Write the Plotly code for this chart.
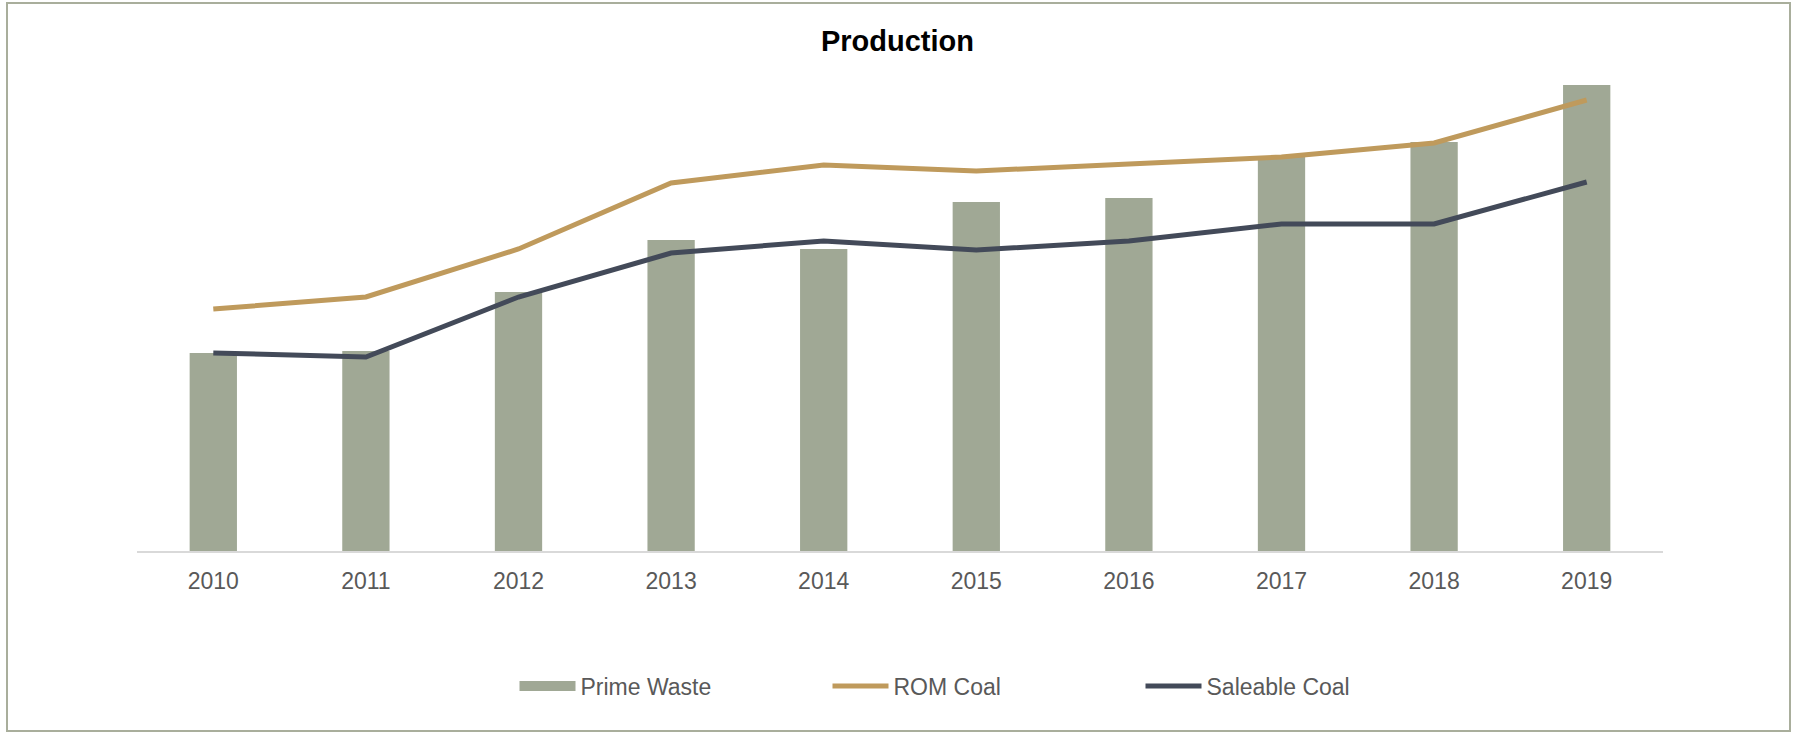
import plotly.graph_objects as go

# values (no axis shown, arbitrary units)
years = ["2010", "2011", "2012", "2013", "2014", "2015", "2016", "2017", "2018", "2019"]
prime_waste = [19.8, 20.0, 25.9, 31.1, 30.2, 34.9, 35.3, 39.4, 40.9, 46.6]
rom_coal = [24.2, 25.4, 30.2, 36.8, 38.6, 38.0, 38.7, 39.4, 40.8, 45.1]
saleable_coal = [19.8, 19.4, 25.4, 29.8, 31.0, 30.1, 31.0, 32.7, 32.7, 36.9]

W, H = 1795, 733
ML, MR, MT, MB = 137, 132, 60, 182
FONT = "Arial, Liberation Sans, sans-serif"
BAR_C = "#A0A895"
ROM_C = "#BF9A5C"
SAL_C = "#434A59"


def px_x(v):
    return (v - ML) / (W - ML - MR)


def px_y(v):
    return (H - MB - v) / (H - MT - MB)


fig = go.Figure()
fig.add_trace(go.Bar(x=years, y=prime_waste, name="Prime Waste",
                     marker=dict(color=BAR_C, line=dict(width=0)),
                     showlegend=False))
# legend proxy so the swatch is a wide block like the original
fig.add_trace(go.Scatter(x=[None], y=[None], mode="lines", name="Prime Waste",
                         line=dict(color=BAR_C, width=10)))
fig.add_trace(go.Scatter(x=years, y=rom_coal, name="ROM Coal", mode="lines",
                         line=dict(color=ROM_C, width=5)))
fig.add_trace(go.Scatter(x=years, y=saleable_coal, name="Saleable Coal", mode="lines",
                         line=dict(color=SAL_C, width=5)))

fig.update_layout(
    width=W, height=H,
    margin=dict(l=ML, r=MR, t=MT, b=MB),
    paper_bgcolor="white", plot_bgcolor="white",
    font=dict(family=FONT, color="#595959", size=23),
    title=dict(text="<b>Production</b>", x=0.5, xanchor="center",
               y=1 - 41 / H, yanchor="middle", yref="container",
               font=dict(family=FONT, size=29, color="black")),
    bargap=0.69,
    showlegend=True,
    legend=dict(orientation="h", x=px_x(514.5), xanchor="left",
                y=px_y(686), yanchor="middle",
                itemwidth=56, entrywidth=242, entrywidthmode="pixels",
                font=dict(family=FONT, size=23, color="#595959"),
                bgcolor="rgba(0,0,0,0)"),
    shapes=[dict(type="rect", xref="paper", yref="paper",
                 x0=px_x(7), x1=px_x(1790), y0=px_y(731), y1=px_y(3),
                 line=dict(color="#A9AE9C", width=2), fillcolor="rgba(0,0,0,0)",
                 layer="below")],
)
fig.update_xaxes(showline=True, linecolor="#D9D9D9", linewidth=2,
                 showgrid=False, zeroline=False, ticks="outside", ticklen=8,
                 tickcolor="rgba(0,0,0,0)", tickfont=dict(size=23, color="#595959"))
fig.update_yaxes(range=[0, 49.1], visible=False, showgrid=False, zeroline=False)

# drop the default page margin so the figure fills the window exactly
fig.write_html("out.html", config={"displayModeBar": False},
               post_script="document.body.style.margin='0';")
